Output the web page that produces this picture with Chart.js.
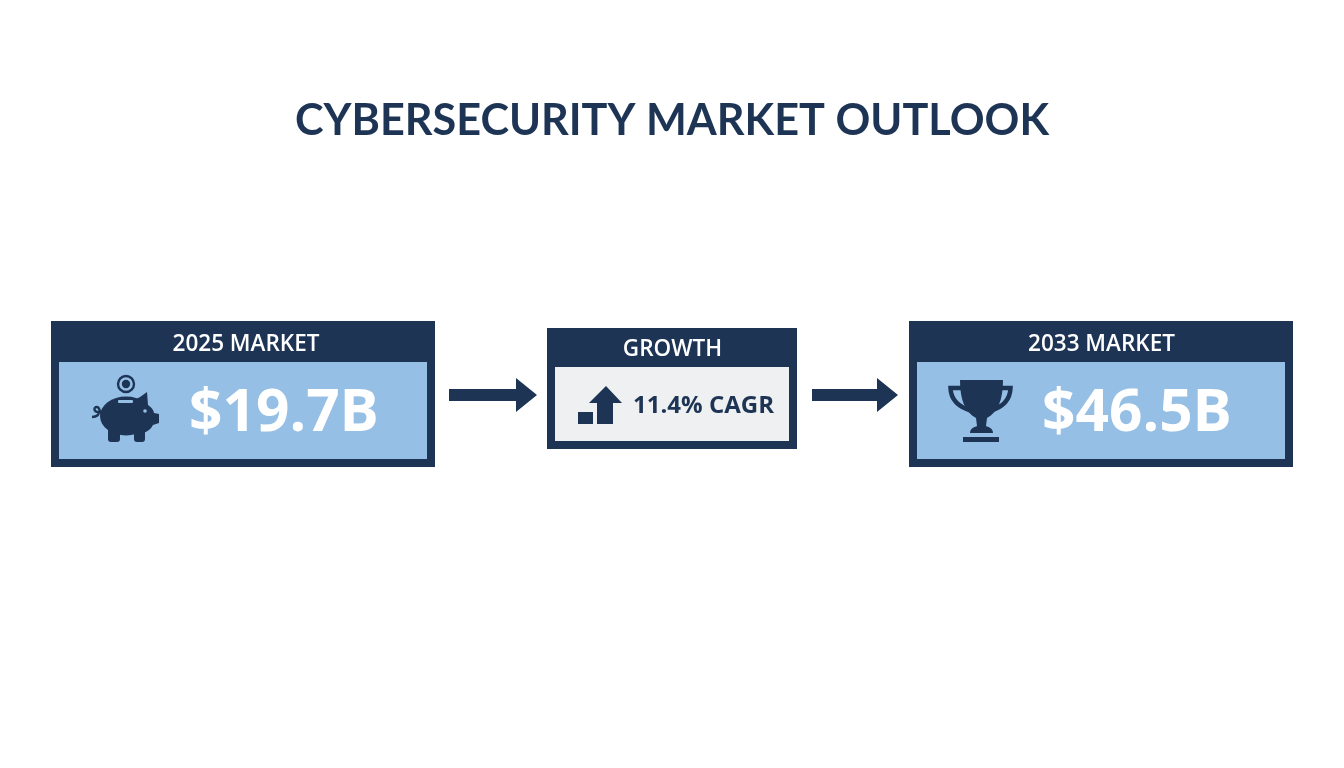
<!DOCTYPE html>
<html>
<head>
<meta charset="utf-8">
<title>Cybersecurity Market Outlook</title>
<script src="https://cdn.jsdelivr.net/npm/chart.js@4"></script>
<style>
  html, body { margin: 0; background: #fff; }
  #wrap { width: 1344px; height: 768px; }
</style>
</head>
<body>
<div id="wrap"><canvas id="outlookChart"></canvas></div>
<script>
const chartTitle = "CYBERSECURITY MARKET OUTLOOK";
const categories = ["2025 MARKET", "GROWTH", "2033 MARKET"];
const seriesValues = [19.7, 11.4, 46.5];
const valueLabels = ["$" + seriesValues[0] + "B", seriesValues[1] + "% CAGR", "$" + seriesValues[2] + "B"];

const NAVY = "#1d3455";
const SKY = "#95bfe5";
const PALE = "#eff0f1";
const FONT = '"Open Sans", sans-serif';

// card boxes, the x centre comes from the category scale
const bigCard = { halfW: 192, top: 321, bottom: 467, inset: 8, bodyTop: 362, headY: 344.5 };
const midCard = { halfW: 125, top: 328, bottom: 449, inset: 8, bodyTop: 367, headY: 349.5 };

function drawCard(ctx, cx, card, fill, head, headShift) {
  ctx.fillStyle = NAVY;
  ctx.fillRect(cx - card.halfW, card.top, card.halfW * 2, card.bottom - card.top);
  ctx.fillStyle = fill;
  ctx.fillRect(cx - card.halfW + card.inset, card.bodyTop, (card.halfW - card.inset) * 2, card.bottom - card.inset - card.bodyTop);
  ctx.fillStyle = "#fff";
  ctx.font = "600 22.5px " + FONT;
  ctx.textAlign = "center";
  ctx.textBaseline = "middle";
  ctx.fillText(head, cx + headShift, card.headY);
}

function drawArrow(ctx, x0, x1, y) {
  ctx.fillStyle = NAVY;
  ctx.beginPath();
  ctx.moveTo(x0, y - 6);
  ctx.lineTo(x1 - 21, y - 6);
  ctx.lineTo(x1 - 21, y - 17);
  ctx.lineTo(x1, y);
  ctx.lineTo(x1 - 21, y + 17);
  ctx.lineTo(x1 - 21, y + 6);
  ctx.lineTo(x0, y + 6);
  ctx.closePath();
  ctx.fill();
}

function drawPig(ctx, cx) {
  ctx.save();
  ctx.translate(cx - 243, 0);
  ctx.fillStyle = NAVY;
  ctx.strokeStyle = NAVY;
  // coin
  ctx.lineWidth = 2.4;
  ctx.beginPath();
  ctx.arc(126, 384, 8, 0, Math.PI * 2);
  ctx.stroke();
  ctx.beginPath();
  ctx.arc(126, 384, 4.2, 0, Math.PI * 2);
  ctx.fill();
  // body
  ctx.beginPath();
  ctx.ellipse(126, 416, 26, 19.5, 0, 0, Math.PI * 2);
  ctx.fill();
  // ear and snout
  ctx.beginPath();
  ctx.moveTo(134, 400);
  ctx.quadraticCurveTo(141, 397, 147, 392);
  ctx.lineTo(148, 405);
  ctx.quadraticCurveTo(153, 408, 154, 413);
  ctx.lineTo(159, 414);
  ctx.lineTo(159, 423);
  ctx.lineTo(153, 425);
  ctx.quadraticCurveTo(150, 431, 143, 433);
  ctx.closePath();
  ctx.fill();
  // legs
  ctx.beginPath();
  ctx.roundRect(108, 426, 12, 16, 3);
  ctx.roundRect(134, 426, 11, 16, 3);
  ctx.fill();
  // tail
  ctx.lineWidth = 2.4;
  ctx.beginPath();
  ctx.moveTo(102, 414);
  ctx.bezierCurveTo(99, 412, 100, 407, 97, 407);
  ctx.bezierCurveTo(93, 407, 94, 412, 98, 412);
  ctx.bezierCurveTo(100, 414, 97, 417, 92, 417);
  ctx.stroke();
  // slot and eye
  ctx.fillStyle = SKY;
  ctx.beginPath();
  ctx.roundRect(118, 400, 15, 3, 1);
  ctx.fill();
  ctx.beginPath();
  ctx.arc(145, 411, 1.8, 0, Math.PI * 2);
  ctx.fill();
  ctx.restore();
}

function drawTrophy(ctx, cx) {
  ctx.save();
  ctx.translate(cx - 1101, 0);
  ctx.fillStyle = NAVY;
  ctx.strokeStyle = NAVY;
  // handles
  ctx.lineWidth = 4.5;
  ctx.beginPath();
  ctx.moveTo(962, 388);
  ctx.lineTo(950.5, 388);
  ctx.quadraticCurveTo(951, 405, 972, 411);
  ctx.moveTo(1000, 388);
  ctx.lineTo(1010.5, 388);
  ctx.quadraticCurveTo(1010, 405, 990, 411);
  ctx.stroke();
  // cup
  ctx.beginPath();
  ctx.moveTo(960, 380);
  ctx.lineTo(1003, 380);
  ctx.bezierCurveTo(1003, 400, 998, 412, 987, 418);
  ctx.lineTo(986, 426);
  ctx.bezierCurveTo(988, 427, 993, 428, 993, 433);
  ctx.lineTo(970, 433);
  ctx.bezierCurveTo(970, 428, 975, 427, 977, 426);
  ctx.lineTo(976, 418);
  ctx.bezierCurveTo(965, 412, 960, 400, 960, 380);
  ctx.closePath();
  ctx.fill();
  // base
  ctx.fillRect(963, 437, 36, 5);
  ctx.restore();
}

function drawGrowthIcon(ctx, cx) {
  ctx.save();
  ctx.translate(cx - 672, 0);
  ctx.fillStyle = NAVY;
  ctx.fillRect(578, 412, 15, 12);
  ctx.beginPath();
  ctx.moveTo(606, 386);
  ctx.lineTo(622, 403);
  ctx.lineTo(613, 403);
  ctx.lineTo(613, 424);
  ctx.lineTo(597, 424);
  ctx.lineTo(597, 403);
  ctx.lineTo(589, 403);
  ctx.closePath();
  ctx.fill();
  ctx.restore();
}

const outlookCards = {
  id: "outlookCards",
  afterDatasetsDraw(chart) {
    const ctx = chart.ctx;
    const x = chart.scales.x;
    const c0 = x.getPixelForValue(0);
    const c1 = x.getPixelForValue(1);
    const c2 = x.getPixelForValue(2);
    ctx.save();
    drawCard(ctx, c0, bigCard, SKY, categories[0], 3);
    drawCard(ctx, c1, midCard, PALE, categories[1], 0.5);
    drawCard(ctx, c2, bigCard, SKY, categories[2], 0.5);
    drawArrow(ctx, c0 + 206, c0 + 294, 395);
    drawArrow(ctx, c1 + 140, c1 + 226, 395);
    drawPig(ctx, c0);
    drawGrowthIcon(ctx, c1);
    drawTrophy(ctx, c2);
    ctx.textBaseline = "middle";
    ctx.textAlign = "center";
    ctx.fillStyle = "#fff";
    ctx.font = "700 58.5px " + FONT;
    ctx.fillText(valueLabels[0], c0 + 41, 414);
    ctx.fillText(valueLabels[2], c2 + 36, 414);
    ctx.fillStyle = NAVY;
    ctx.font = "700 24px " + FONT;
    ctx.fillText(valueLabels[1], c1 + 31.5, 406.5);
    ctx.restore();
  }
};

new Chart(document.getElementById("outlookChart"), {
  type: "bar",
  data: {
    labels: categories,
    datasets: [
      {
        label: "Market outlook",
        data: seriesValues,
        backgroundColor: "rgba(0,0,0,0)",
        borderWidth: 0,
      },
    ],
  },
  options: {
    responsive: true,
    maintainAspectRatio: false,
    animation: false,
    layout: { padding: { left: 28.5, right: 28.5, top: 0, bottom: 0 } },
    plugins: {
      legend: { display: false },
      tooltip: { enabled: false },
      title: {
        display: true,
        text: chartTitle,
        color: NAVY,
        font: { family: "Lato, sans-serif", size: 43.2, weight: "700" },
        padding: { top: 95, bottom: 20 },
      },
    },
    scales: {
      x: { display: false },
      y: { display: false, beginAtZero: true },
    },
  },
  plugins: [outlookCards],
});
</script>
</body>
</html>
